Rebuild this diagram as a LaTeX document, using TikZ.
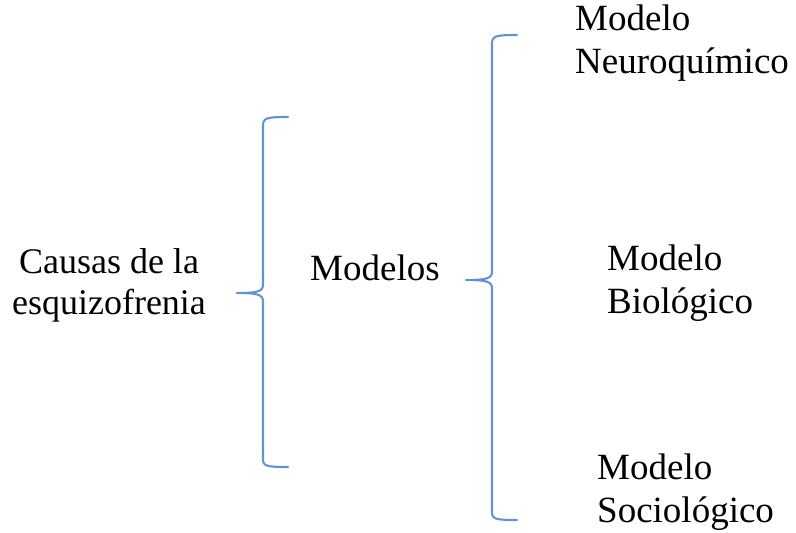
\documentclass[tikz,border=0pt]{standalone}
\usepackage{fontspec}
\setmainfont{Liberation Serif}
\definecolor{bracecol}{RGB}{100,145,210}
\tikzset{
  lbl/.style={font=\fontsize{37}{43}\selectfont, inner sep=0pt, align=left, anchor=west},
  brc/.style={draw=bracecol, line width=2.1pt, line cap=round, line join=round}
}
\begin{document}
\begin{tikzpicture}[x=1pt,y=-1pt]
\useasboundingbox (0,0) rectangle (796,533);
\node[lbl, align=center, anchor=center, font=\fontsize{36}{41}\selectfont] (causas) at (109,285) {Causas de la\\esquizofrenia};
\node[lbl] (modelos) at (310,268) {Modelos};
\node[lbl] (neuro) at (575,43) {Modelo\\Neuroquímico};
\node[lbl] (bio) at (607,283) {Modelo\\Biológico};
\node[lbl] (socio) at (597,492) {Modelo\\Sociológico};
% brace 1
\draw[brc] (288,117) .. controls (266,117) and (263,118) .. (263,126) -- (263,285)
  .. controls (263,292) and (255,293) .. (237,293)
  .. controls (255,293) and (263,294) .. (263,301) -- (263,459)
  .. controls (263,466) and (266,467) .. (288,467);
% brace 2
\draw[brc] (517,35) .. controls (495,35) and (492,36) .. (492,44) -- (492,272)
  .. controls (492,279) and (484,280) .. (466,280)
  .. controls (484,280) and (492,281) .. (492,288) -- (492,512)
  .. controls (492,519) and (495,520) .. (517,520);
\end{tikzpicture}
\end{document}
